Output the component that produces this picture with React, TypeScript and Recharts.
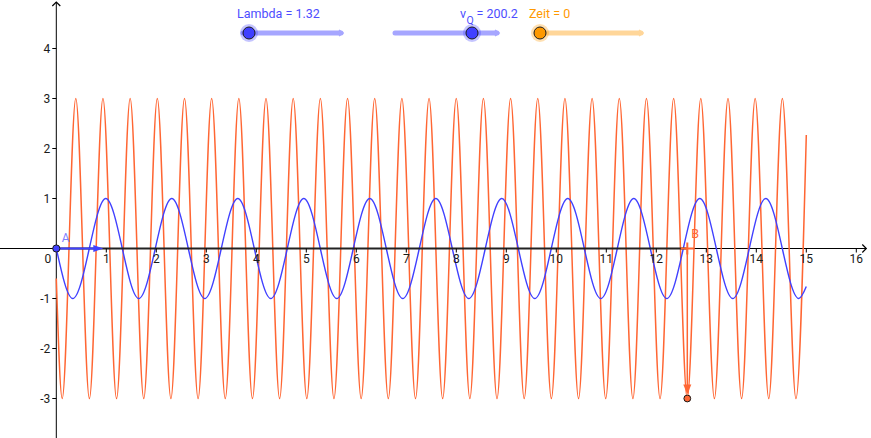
import React from 'react';
import { LineChart, Line, XAxis, YAxis, ReferenceLine, ReferenceDot } from 'recharts';

// Visible window of the coordinate plane
const X_DOMAIN: [number, number] = [-1.126, 16.294];
const Y_DOMAIN: [number, number] = [-3.79, 4.97];

// Blue wave (Lambda = 1.32): start, successive troughs/crests, end value at x = 15
const blueX = [0, 0.33, 0.99, 1.65, 2.31, 2.97, 3.63, 4.29, 4.95, 5.61, 6.27, 6.93, 7.59, 8.25, 8.91, 9.57, 10.23, 10.89, 11.55, 12.21, 12.87, 13.53, 14.19, 14.85, 15];
const blueY = [0, -1, 1, -1, 1, -1, 1, -1, 1, -1, 1, -1, 1, -1, 1, -1, 1, -1, 1, -1, 1, -1, 1, -1, -0.76];

// Orange wave: start, successive troughs/crests, end value at x = 15
const orangeX = [0, 0.118, 0.39, 0.662, 0.933, 1.205, 1.477, 1.749, 2.02, 2.292, 2.564, 2.836, 3.107, 3.379, 3.651, 3.923, 4.194, 4.466, 4.738, 5.01, 5.281, 5.553, 5.825, 6.097, 6.368, 6.64, 6.912, 7.184, 7.455, 7.727, 7.999, 8.271, 8.542, 8.814, 9.086, 9.358, 9.629, 9.901, 10.173, 10.445, 10.716, 10.988, 11.26, 11.532, 11.803, 12.075, 12.347, 12.619, 12.89, 13.162, 13.434, 13.706, 13.977, 14.249, 14.521, 14.793, 15];
const orangeY = [-0.6, -3, 3, -3, 3, -3, 3, -3, 3, -3, 3, -3, 3, -3, 3, -3, 3, -3, 3, -3, 3, -3, 3, -3, 3, -3, 3, -3, 3, -3, 3, -3, 3, -3, 3, -3, 3, -3, 3, -3, 3, -3, 3, -3, 3, -3, 3, -3, 3, -3, 3, -3, 3, -3, 3, -3, 2.27];

// Axis tick labels
const xTickValues = [1, 2, 3, 4, 5, 6, 7, 8, 9, 10, 11, 12, 13, 14, 15, 16];
const yTickValues = [-3, -2, -1, 1, 2, 3, 4];
const xAxisEnd = 16.2;
const yAxisEnd = 4.93;

// Points and vectors
const pointA = { x: 0, y: 0 };
const pointB = { x: 12.62, y: 0 };
const blueVectorTipX = 0.94;
const orangeVectorTipY = -3;

// Slider captions
const lambdaLabel = 'Lambda = 1.32';
const vqValue = '= 200.2';
const zeitLabel = 'Zeit = 0';

const blueData = blueX.map((x, i) => ({ x, y: blueY[i] }));
const orangeData = orangeX.map((x, i) => ({ x, y: orangeY[i] }));

const FONT = 'Roboto, "Noto Sans", sans-serif';
const BLUE = '#4040ff';
const ORANGE = '#ff6633';
const SLIDER_ORANGE = '#ff9900';

const XTick = ({ cx, cy, label }: any) => (
  <g>
    <line x1={cx} y1={cy} x2={cx} y2={cy + 4} stroke="#000" strokeWidth={1} />
    <text x={cx} y={cy + 14.5} textAnchor="middle" fontFamily={FONT} fontSize={12} fill="#1a1a1a">{label}</text>
  </g>
);

const YTick = ({ cx, cy, label }: any) => (
  <g>
    <line x1={cx - 4} y1={cy} x2={cx} y2={cy} stroke="#000" strokeWidth={1} />
    <text x={cx - 6} y={cy + 4.3} textAnchor="end" fontFamily={FONT} fontSize={12} fill="#1a1a1a">{label}</text>
  </g>
);

const OriginLabel = ({ cx, cy }: any) => (
  <text x={cx - 8.5} y={cy + 14.5} textAnchor="middle" fontFamily={FONT} fontSize={12} fill="#1a1a1a">0</text>
);

const ArrowRight = ({ cx, cy }: any) => (
  <polyline points={`${cx - 4},${cy - 4} ${cx},${cy} ${cx - 4},${cy + 4}`} fill="none" stroke="#000" strokeWidth={1.2} />
);

const ArrowUp = ({ cx, cy }: any) => (
  <polyline points={`${cx - 4},${cy + 4} ${cx},${cy} ${cx + 4},${cy + 4}`} fill="none" stroke="#000" strokeWidth={1.2} />
);

const BlueHead = ({ cx, cy }: any) => (
  <polygon points={`${cx},${cy} ${cx - 10},${cy - 3.5} ${cx - 10},${cy + 3.5}`} fill={BLUE} />
);

const OrangeHead = ({ cx, cy }: any) => (
  <polygon points={`${cx},${cy - 4} ${cx - 4},${cy - 14} ${cx + 4},${cy - 14}`} fill={ORANGE} />
);

const PointAShape = ({ cx, cy }: any) => (
  <g>
    <circle cx={cx} cy={cy} r={3.6} fill={BLUE} stroke="#1a1a1a" strokeWidth={1} />
    <text x={cx + 5.5} y={cy - 7} fontFamily={FONT} fontSize={12} fill="#8080ff">A</text>
  </g>
);

const PointBShape = ({ cx, cy }: any) => (
  <g>
    <line x1={cx - 6.5} y1={cy} x2={cx + 6.5} y2={cy} stroke={ORANGE} strokeWidth={2} />
    <line x1={cx} y1={cy - 6} x2={cx} y2={cy + 6} stroke={ORANGE} strokeWidth={2} />
    <text x={cx + 4} y={cy - 10.5} fontFamily={FONT} fontSize={12.5} fill={ORANGE}>B</text>
  </g>
);

const OrangeDot = ({ cx, cy }: any) => (
  <circle cx={cx} cy={cy} r={3.4} fill={ORANGE} stroke="#1a1a1a" strokeWidth={1} />
);

const Slider = ({ x1, x2, knob, color, track }: { x1: number; x2: number; knob: number; color: string; track: string }) => (
  <g>
    <line x1={x1} y1={33} x2={x2 - 2} y2={33} stroke={track} strokeWidth={5} strokeLinecap="round" />
    <polyline points={`${x2 - 4},${30} ${x2},${33} ${x2 - 4},${36}`} fill="none" stroke={track} strokeWidth={1.5} />
    <circle cx={knob} cy={33} r={9} fill={color} fillOpacity={0.3} />
    <circle cx={knob} cy={33} r={6} fill={color} stroke="#1a1a1a" strokeWidth={1} />
  </g>
);

const Sliders = () => (
  <svg width={871} height={50} style={{ position: 'absolute', left: 0, top: 0, pointerEvents: 'none' }}>
    <text x={237} y={18} fontFamily={FONT} fontSize={12.5} fill="#4d4dff">{lambdaLabel}</text>
    <Slider x1={243} x2={343} knob={249} color={BLUE} track="#a6a6ff" />
    <text x={460} y={17.5} fontFamily={FONT} fontSize={12.5} fill="#4d4dff">v</text>
    <text x={466.5} y={23.5} fontFamily={FONT} fontSize={10.5} fill="#4d4dff">Q</text>
    <text x={476.5} y={17.5} fontFamily={FONT} fontSize={12.5} fill="#4d4dff">{vqValue}</text>
    <Slider x1={395} x2={499} knob={472} color={BLUE} track="#a6a6ff" />
    <text x={529} y={17.5} fontFamily={FONT} fontSize={12.5} fill={SLIDER_ORANGE}>{zeitLabel}</text>
    <Slider x1={540} x2={643} knob={540} color={SLIDER_ORANGE} track="#ffd699" />
  </svg>
);

export default function App() {
  return (
    <div style={{ position: 'absolute', left: 0, top: 0, width: 871, height: 438, background: '#fff' }}>
      <LineChart width={871} height={438} margin={{ top: 0, right: 0, bottom: 0, left: 0 }}>
        <XAxis type="number" dataKey="x" domain={X_DOMAIN} allowDataOverflow hide />
        <YAxis type="number" dataKey="y" domain={Y_DOMAIN} allowDataOverflow hide />

        <ReferenceLine segment={[{ x: X_DOMAIN[0], y: 0 }, { x: xAxisEnd, y: 0 }]} stroke="#000" strokeWidth={1} />
        <ReferenceLine segment={[{ x: 0, y: Y_DOMAIN[0] }, { x: 0, y: yAxisEnd }]} stroke="#000" strokeWidth={1} />
        <ReferenceDot x={xAxisEnd} y={0} r={0} shape={(p: any) => <ArrowRight {...p} />} />
        <ReferenceDot x={0} y={yAxisEnd} r={0} shape={(p: any) => <ArrowUp {...p} />} />
        {xTickValues.map((v) => (
          <ReferenceDot key={`xt${v}`} x={v} y={0} r={0} shape={(p: any) => <XTick {...p} label={v} />} />
        ))}
        {yTickValues.map((v) => (
          <ReferenceDot key={`yt${v}`} x={0} y={v} r={0} shape={(p: any) => <YTick {...p} label={v} />} />
        ))}
        <ReferenceDot x={0} y={0} r={0} shape={(p: any) => <OriginLabel {...p} />} />

        <Line data={orangeData} dataKey="y" type="monotone" stroke={ORANGE} strokeWidth={1.5} dot={false} activeDot={false} isAnimationActive={false} />
        <Line data={blueData} dataKey="y" type="monotone" stroke={BLUE} strokeWidth={1.4} dot={false} activeDot={false} isAnimationActive={false} />

        <ReferenceLine segment={[{ x: pointA.x, y: 0 }, { x: pointB.x, y: 0 }]} stroke="#222" strokeWidth={2} />
        <ReferenceLine segment={[{ x: pointA.x, y: 0 }, { x: blueVectorTipX - 0.15, y: 0 }]} stroke={BLUE} strokeWidth={2} />
        <ReferenceDot x={blueVectorTipX} y={0} r={0} shape={(p: any) => <BlueHead {...p} />} />
        <ReferenceLine segment={[{ x: pointB.x, y: 0 }, { x: pointB.x, y: orangeVectorTipY + 0.2 }]} stroke={ORANGE} strokeWidth={1.5} />
        <ReferenceDot x={pointB.x} y={orangeVectorTipY} r={0} shape={(p: any) => <OrangeHead {...p} />} />
        <ReferenceDot x={pointB.x} y={orangeVectorTipY} r={0} shape={(p: any) => <OrangeDot {...p} />} />
        <ReferenceDot x={pointA.x} y={pointA.y} r={0} shape={(p: any) => <PointAShape {...p} />} />
        <ReferenceDot x={pointB.x} y={pointB.y} r={0} shape={(p: any) => <PointBShape {...p} />} />
      </LineChart>
      <Sliders />
    </div>
  );
}
